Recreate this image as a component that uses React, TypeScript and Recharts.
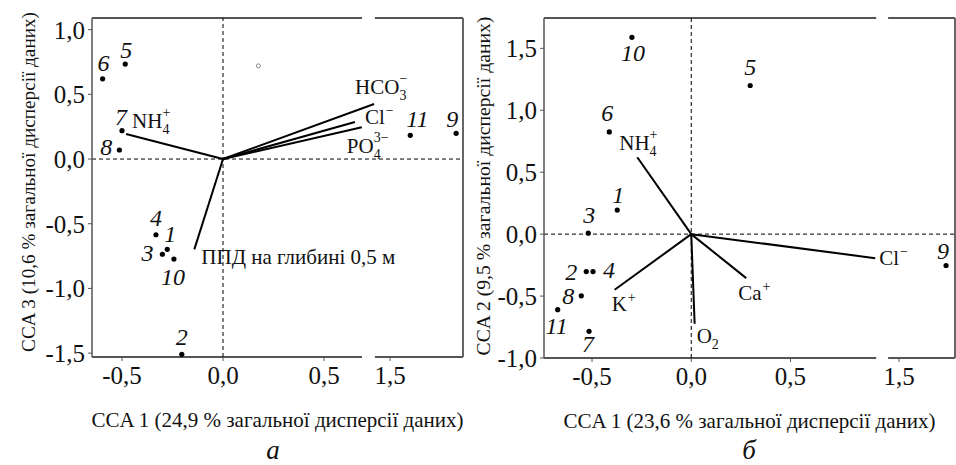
import { ScatterChart, Scatter, XAxis, YAxis, ReferenceLine, Label } from "recharts";

const FONT = '"Liberation Serif", "DejaVu Serif", serif';
const INK = "#111";
const FRAME = "#555";

// ---- panel а: CCA 1 vs CCA 3 ----
const samplesA = [
  { id: "1", x: -0.276, y: -0.698 },
  { id: "2", x: -0.204, y: -1.509 },
  { id: "3", x: -0.3, y: -0.736 },
  { id: "4", x: -0.332, y: -0.585 },
  { id: "5", x: -0.484, y: 0.734 },
  { id: "6", x: -0.596, y: 0.62 },
  { id: "7", x: -0.5, y: 0.219 },
  { id: "8", x: -0.513, y: 0.07 },
  { id: "9", x: 1.827, y: 0.199 },
  { id: "10", x: -0.243, y: -0.773 },
  { id: "11", x: 1.6, y: 0.183 },
];
const centroidA = [{ id: "c", x: 0.175, y: 0.72 }];
const vectorsA = [
  { name: "NH4+", x: -0.48, y: 0.193 },
  { name: "HCO3-", x: 0.748, y: 0.425 },
  { name: "Cl-", x: 0.653, y: 0.286 },
  { name: "PO4", x: 0.687, y: 0.245 },
  { name: "PPD", x: -0.142, y: -0.698 },
];
const xTicksA = [-0.5, 0, 0.5, 1.5];
const yTicksA = [1.0, 0.5, 0, -0.5, -1.0, -1.5];

// ---- panel б: CCA 1 vs CCA 2 ----
const samplesB = [
  { id: "1", x: -0.373, y: 0.194 },
  { id: "2", x: -0.529, y: -0.302 },
  { id: "3", x: -0.519, y: 0.008 },
  { id: "4", x: -0.495, y: -0.302 },
  { id: "5", x: 0.297, y: 1.2 },
  { id: "6", x: -0.413, y: 0.825 },
  { id: "7", x: -0.515, y: -0.785 },
  { id: "8", x: -0.554, y: -0.498 },
  { id: "9", x: 1.737, y: -0.253 },
  { id: "10", x: -0.299, y: 1.589 },
  { id: "11", x: -0.673, y: -0.61 },
];
const vectorsB = [
  { name: "NH4+", x: -0.272, y: 0.621 },
  { name: "Cl-", x: 0.927, y: -0.194 },
  { name: "K+", x: -0.386, y: -0.449 },
  { name: "Ca+", x: 0.277, y: -0.355 },
  { name: "O2", x: 0.017, y: -0.723 },
];
const xTicksB = [-0.5, 0, 0.5, 1.5];
const yTicksB = [1.5, 1.0, 0.5, 0, -0.5, -1.0];

// label text for each vector
const chem: Record<string, { base: string; sub?: string; sup?: string }> = {
  "NH4+": { base: "NH", sub: "4", sup: "+" },
  "HCO3-": { base: "HCO", sub: "3", sup: "−" },
  "Cl-": { base: "Cl", sup: "−" },
  PO4: { base: "PO", sub: "4", sup: "3−" },
  PPD: { base: "ППД на глибині 0,5 м" },
  "K+": { base: "K", sup: "+" },
  "Ca+": { base: "Ca", sup: "+" },
  O2: { base: "O", sub: "2" },
};

type Cfg = {
  samples: { id: string; x: number; y: number }[];
  vectors: { name: string; x: number; y: number }[];
  xTicks: number[];
  yTicks: number[];
  xDomain: [number, number];
  yDomain: [number, number];
  gap: [number, number];
  shift: number;
  width: number;
  margin: { top: number; right: number; bottom: number; left: number };
  yTitlePos: [number, number];
  yTitleSize: number;
  xTitle: string;
  yTitle: string;
  numPos: Record<string, [number, number]>;
  vecPos: Record<string, [number, number]>;
  centroid?: { id: string; x: number; y: number }[];
};

function Panel({ c }: { c: Cfg }) {
  // broken x axis: values past the break are shifted left
  const toD = (v: number) => (v >= 1 ? v - c.shift : v);
  const fromD = (v: number) => (v > c.gap[1] - 0.001 ? v + c.shift : v);
  const pts = c.samples.map((s) => ({ ...s, xd: toD(s.x) }));
  const ends = c.vectors.map((v) => ({ ...v, xd: v.x }));
  const [x0, x1] = c.xDomain;
  const [y0, y1] = c.yDomain;
  const fmt = (v: number) => fromD(v).toFixed(1).replace(".", ",");
  const tickStyle = { fill: INK, fontSize: 25, fontFamily: FONT };
  const [tx, ty] = c.yTitlePos;

  return (
    <ScatterChart width={c.width} height={465} margin={c.margin}>
      <XAxis
        type="number"
        dataKey="xd"
        domain={c.xDomain}
        allowDataOverflow
        ticks={c.xTicks.map(toD)}
        tickFormatter={fmt}
        axisLine={false}
        tickLine={{ stroke: FRAME }}
        tickSize={4}
        tickMargin={5}
        tick={tickStyle}
        height={30}
      >
        <Label value={c.xTitle} position="bottom" offset={25} style={{ fontSize: 21, fontFamily: FONT, fill: INK }} />
      </XAxis>
      <YAxis
        type="number"
        dataKey="y"
        domain={c.yDomain}
        allowDataOverflow
        ticks={c.yTicks}
        tickFormatter={(v: number) => v.toFixed(1).replace(".", ",")}
        axisLine={{ stroke: FRAME, strokeWidth: 1.5 }}
        tickLine={{ stroke: FRAME }}
        tickSize={4}
        tickMargin={3}
        tick={tickStyle}
        width={70}
      >
        <Label
          content={() => (
            <text
              x={tx}
              y={ty}
              transform={`rotate(-90 ${tx} ${ty})`}
              textAnchor="middle"
              dominantBaseline="central"
              fontSize={c.yTitleSize}
              fontFamily={FONT}
              fill={INK}
            >
              {c.yTitle}
            </text>
          )}
        />
      </YAxis>

      {/* frame with a gap at the axis break */}
      <ReferenceLine segment={[{ x: x0, y: y1 }, { x: c.gap[0], y: y1 }]} stroke={FRAME} strokeWidth={1.8} ifOverflow="visible" />
      <ReferenceLine segment={[{ x: c.gap[1], y: y1 }, { x: x1, y: y1 }]} stroke={FRAME} strokeWidth={1.8} ifOverflow="visible" />
      <ReferenceLine segment={[{ x: x0, y: y0 }, { x: c.gap[0], y: y0 }]} stroke={FRAME} strokeWidth={1.8} ifOverflow="visible" />
      <ReferenceLine segment={[{ x: c.gap[1], y: y0 }, { x: x1, y: y0 }]} stroke={FRAME} strokeWidth={1.8} ifOverflow="visible" />
      <ReferenceLine x={x1} stroke={FRAME} strokeWidth={1.8} ifOverflow="visible" />

      <ReferenceLine x={0} stroke="#000" strokeDasharray="4 3" />
      <ReferenceLine y={0} stroke="#000" strokeDasharray="4 3" />

      {c.vectors.map((v) => (
        <ReferenceLine key={v.name} segment={[{ x: 0, y: 0 }, { x: v.x, y: v.y }]} stroke="#000" strokeWidth={2} ifOverflow="visible" />
      ))}

      <Scatter
        data={ends}
        isAnimationActive={false}
        shape={(p: any) => {
          const t = chem[p.payload.name];
          const [dx, dy] = c.vecPos[p.payload.name] ?? [4, -4];
          return (
            <text x={p.cx + dx} y={p.cy + dy} fontFamily={FONT} fontSize={21} fill={INK}>
              <tspan>{t.base}</tspan>
              {t.sub && (
                <tspan dy={6} fontSize={14}>
                  {t.sub}
                </tspan>
              )}
              {t.sup && (
                <tspan dy={t.sub ? -17 : -9} dx={t.sub ? -7 : 1} fontSize={14}>
                  {t.sup}
                </tspan>
              )}
            </text>
          );
        }}
      />

      {c.centroid && (
        <Scatter
          data={c.centroid.map((d) => ({ ...d, xd: d.x }))}
          isAnimationActive={false}
          shape={(p: any) => <circle cx={p.cx} cy={p.cy} r={2} fill="none" stroke="#888" strokeWidth={1} />}
        />
      )}

      <Scatter
        data={pts}
        isAnimationActive={false}
        shape={(p: any) => {
          const [dx, dy] = c.numPos[p.payload.id] ?? [0, -15];
          return (
            <g>
              <circle cx={p.cx} cy={p.cy} r={2.6} fill="#000" />
              <text
                x={p.cx + dx}
                y={p.cy + dy}
                textAnchor="middle"
                dominantBaseline="central"
                fontStyle="italic"
                fontSize={24}
                fontFamily={FONT}
                fill={INK}
              >
                {p.payload.id}
              </text>
            </g>
          );
        }}
      />
    </ScatterChart>
  );
}

const cfgA: Cfg = {
  samples: samplesA,
  vectors: vectorsA,
  centroid: centroidA,
  xTicks: xTicksA,
  yTicks: yTicksA,
  xDomain: [-0.6485, 1.188],
  yDomain: [-1.53, 1.09],
  gap: [0.688, 0.752],
  shift: 0.673,
  width: 470,
  margin: { top: 18, right: 7, bottom: 78, left: 22 },
  yTitlePos: [28, 182],
  yTitleSize: 19.2,
  xTitle: "CCA 1 (24,9 % загальної дисперсії даних)",
  yTitle: "CCA 3 (10,6 % загальної дисперсії даних)",
  numPos: {
    "1": [3, -15], "2": [0, -17], "3": [-15, -1], "4": [0, -17], "5": [1, -14], "6": [1, -16],
    "7": [-1, -14], "8": [-13, -3], "9": [-4, -14], "10": [-1, 18], "11": [7, -16],
  },
  vecPos: { "NH4+": [6, -6], "HCO3-": [-19, -10], "Cl-": [10, 2], PO4: [-15, 26], PPD: [7, 15] },
};

const cfgB: Cfg = {
  samples: samplesB,
  vectors: vectorsB,
  xTicks: xTicksB,
  yTicks: yTicksB,
  xDomain: [-0.742, 1.329],
  yDomain: [-1.0, 1.745],
  gap: [0.932, 0.992],
  shift: 0.453,
  width: 486,
  margin: { top: 18, right: 1, bottom: 77, left: 4 },
  yTitlePos: [13, 186],
  yTitleSize: 19.7,
  xTitle: "CCA 1 (23,6 % загальної дисперсії даних)",
  yTitle: "CCA 2 (9,5 % загальної дисперсії даних)",
  numPos: {
    "1": [1, -15], "2": [-15, 0], "3": [1, -18], "4": [16, -2], "5": [0, -19], "6": [-2, -19],
    "7": [-1, 13], "8": [-13, 0], "9": [-3, -14], "10": [1, 16], "11": [-1, 16],
  },
  vecPos: { "NH4+": [-18, -7], "Cl-": [4, 7], "K+": [-3, 21], "Ca+": [-8, 22], O2: [2, 19] },
};

const caption = {
  position: "absolute" as const,
  top: 438,
  width: 40,
  height: 24,
  lineHeight: "24px",
  textAlign: "center" as const,
  fontFamily: FONT,
  fontStyle: "italic",
  fontSize: 27,
  color: INK,
};

export default function App() {
  return (
    <div style={{ position: "absolute", left: 0, top: 0, width: 956, height: 465, background: "#fff", overflow: "hidden" }}>
      <div style={{ position: "absolute", left: 0, top: 0 }}>
        <Panel c={cfgA} />
      </div>
      <div style={{ position: "absolute", left: 470, top: 0 }}>
        <Panel c={cfgB} />
      </div>
      <div style={{ ...caption, left: 253 }}>а</div>
      <div style={{ ...caption, left: 729 }}>б</div>
    </div>
  );
}
